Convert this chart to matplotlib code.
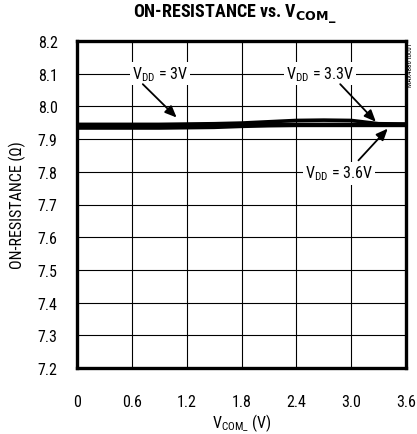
import matplotlib
matplotlib.use("Agg")
import matplotlib.pyplot as plt
from matplotlib import font_manager

avail = {}
for f in font_manager.fontManager.ttflist:
    avail.setdefault(f.name, set()).add(f.weight if isinstance(f.weight, int) else 400)

prefs = ["Nimbus Sans Narrow", "Liberation Sans Narrow", "Roboto Condensed",
         "Barlow Semi Condensed", "Asap Condensed", "Archivo Narrow"]
fam = next((p for p in prefs if p in avail), "Liberation Sans")
bold_fam = next((p for p in prefs if p in avail and any(
    (w if isinstance(w, int) else 400) >= 700 for w in avail[p])), fam)

plt.rcParams['font.family'] = [fam, 'DejaVu Sans']
plt.rcParams['mathtext.fontset'] = 'custom'
plt.rcParams['mathtext.rm'] = fam

# data
vcom = [0.0, 0.3, 0.6, 0.9, 1.2, 1.5, 1.8, 2.1, 2.4, 2.7, 3.0, 3.3, 3.6]
ron_3v = [7.934, 7.934, 7.934, 7.934, 7.935, 7.936, 7.939, 7.941, 7.942, 7.942, 7.942, 7.942, 7.942]
ron_33v = [7.945, 7.945, 7.945, 7.945, 7.946, 7.947, 7.949, 7.953, 7.957, 7.958, 7.957, 7.947, 7.946]
ron_36v = [7.940, 7.940, 7.940, 7.941, 7.942, 7.943, 7.944, 7.945, 7.945, 7.945, 7.945, 7.945, 7.945]

xticks = [0, 0.6, 1.2, 1.8, 2.4, 3.0, 3.6]
xticklabels = ["0", "0.6", "1.2", "1.8", "2.4", "3.0", "3.6"]
yticks = [7.2, 7.3, 7.4, 7.5, 7.6, 7.7, 7.8, 7.9, 8.0, 8.1, 8.2]

fig = plt.figure(figsize=(4.17, 4.35), dpi=100)
ax = fig.add_axes([77/417, 1-369/435, (406-77)/417, (369-42)/435])

for y in (ron_3v, ron_33v, ron_36v):
    ax.plot(vcom, y, color='black', lw=2.6, solid_capstyle='butt', zorder=3)

ax.set_xlim(0, 3.6)
ax.set_ylim(7.2, 8.2)
ax.set_xticks(xticks)
ax.set_xticklabels(xticklabels)
ax.set_yticks(yticks)
ax.set_yticklabels([f"{v:.1f}" for v in yticks])
ax.tick_params(length=0, labelsize=11.5, pad=14)
ax.tick_params(axis='x', pad=19)
ax.grid(True, color='black', lw=0.8)
for s in ax.spines.values():
    s.set_linewidth(2.4)

ax.set_xlabel(r"V$_{\mathrm{COM\_}}$ (V)", fontsize=11.5)
ax.xaxis.set_label_coords(0.5, -(423-369)/327, transform=ax.transAxes)
ax.xaxis.label.set_va('center')
ax.set_ylabel("ON-RESISTANCE (Ω)", fontsize=11.5)
ax.yaxis.set_label_coords(-(77-17)/329, 0.5, transform=ax.transAxes)
ax.yaxis.label.set_va('center')

fig.text(235/417, 1-14/435, "ON-RESISTANCE vs. V$_{\\mathbf{COM\\_}}$", ha='center', va='center',
         fontsize=13, fontweight='bold', family=[bold_fam, 'DejaVu Sans'],
         math_fontfamily='dejavusans')

bbox = dict(facecolor='white', edgecolor='none', pad=1.5)
arrow = dict(arrowstyle='-|>,head_length=0.7,head_width=0.3', color='black', lw=1.3,
             shrinkA=0, shrinkB=0)
ax.text(0.91, 8.1, r"V$_{\mathrm{DD}}$ = 3V", ha='center', va='center', fontsize=11.5, bbox=bbox, zorder=4)
ax.annotate("", xy=(1.09, 7.966), xytext=(0.72, 8.068), arrowprops=arrow, zorder=5)
ax.text(2.66, 8.1, r"V$_{\mathrm{DD}}$ = 3.3V", ha='center', va='center', fontsize=11.5, bbox=bbox, zorder=4)
ax.annotate("", xy=(3.27, 7.953), xytext=(2.88, 8.068), arrowprops=arrow, zorder=5)
ax.text(2.87, 7.796, r"V$_{\mathrm{DD}}$ = 3.6V", ha='center', va='center', fontsize=11.5, bbox=bbox, zorder=4)
ax.annotate("", xy=(3.40, 7.932), xytext=(3.08, 7.835), arrowprops=arrow, zorder=5)

fig.text(411/417, 1-65/435, "MAX4886 toc01", rotation=90, ha='center', va='center', fontsize=5)

fig.savefig("out.png", dpi=100)
